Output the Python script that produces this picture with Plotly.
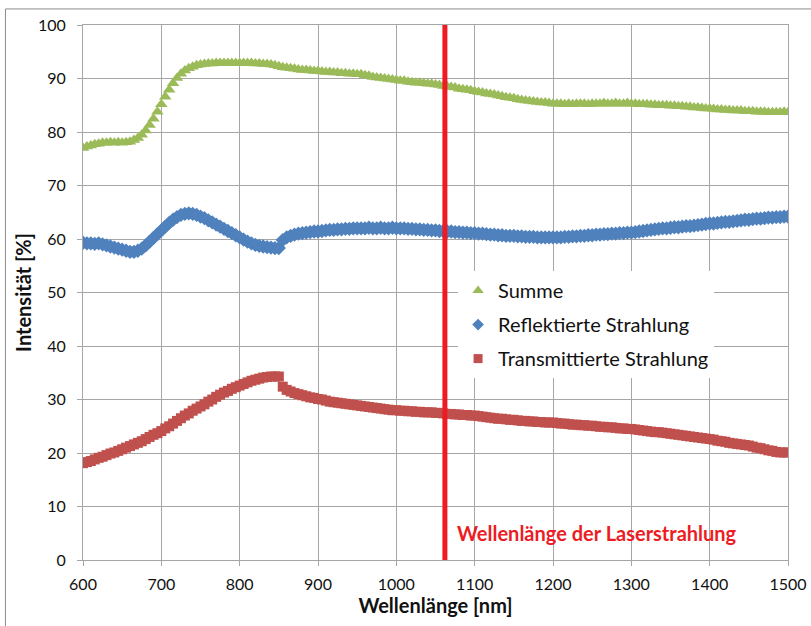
import plotly.graph_objects as go

wavelength = list(range(600, 1505, 5))

summe = [
    77.0, 77.3, 77.5, 77.7, 77.8, 78.0, 78.0, 78.1, 78.0, 78.1,
    78.0, 78.1, 78.2, 78.5, 78.9, 79.5, 80.3, 81.3, 82.5, 83.8,
    85.2, 86.6, 87.9, 89.1, 90.1, 90.9, 91.5, 91.9, 92.2, 92.5,
    92.6, 92.7, 92.8, 92.8, 92.9, 92.9, 92.9, 92.9, 92.9, 92.9,
    92.9, 92.9, 92.9, 92.9, 92.8, 92.8, 92.7, 92.7, 92.6, 92.5,
    92.3, 92.1, 92.0, 91.9, 91.8, 91.7, 91.6, 91.6, 91.5, 91.4,
    91.4, 91.3, 91.2, 91.2, 91.1, 91.1, 91.0, 91.0, 90.9, 90.9,
    90.8, 90.8, 90.6, 90.5, 90.3, 90.2, 90.1, 90.0, 89.9, 89.8,
    89.7, 89.6, 89.6, 89.4, 89.3, 89.2, 89.2, 89.1, 89.0, 89.0,
    88.9, 88.8, 88.6, 88.5, 88.4, 88.3, 88.1, 88.0, 87.9, 87.8,
    87.6, 87.5, 87.4, 87.2, 87.1, 87.0, 86.8, 86.7, 86.5, 86.4,
    86.3, 86.1, 86.0, 85.9, 85.8, 85.7, 85.6, 85.5, 85.5, 85.4,
    85.3, 85.3, 85.3, 85.2, 85.3, 85.2, 85.3, 85.3, 85.3, 85.2,
    85.3, 85.3, 85.3, 85.4, 85.3, 85.3, 85.4, 85.3, 85.3, 85.4,
    85.3, 85.3, 85.2, 85.2, 85.2, 85.1, 85.1, 85.0, 85.0, 85.0,
    84.9, 84.9, 84.8, 84.8, 84.7, 84.7, 84.6, 84.6, 84.5, 84.4,
    84.4, 84.3, 84.2, 84.2, 84.1, 84.1, 84.0, 84.0, 84.0, 83.9,
    83.9, 83.9, 83.8, 83.8, 83.8, 83.7, 83.7, 83.7, 83.7, 83.8,
    83.7,
]

reflektiert = [
    59.3, 59.2, 59.2, 59.1, 59.2, 59.0, 58.8, 58.6, 58.4, 58.2,
    58.0, 57.8, 57.6, 57.6, 57.8, 58.2, 58.8, 59.5, 60.2, 60.9,
    61.6, 62.3, 63.0, 63.6, 64.1, 64.5, 64.7, 64.8, 64.7, 64.5,
    64.2, 63.9, 63.5, 63.1, 62.7, 62.3, 61.9, 61.5, 61.1, 60.7,
    60.3, 59.9, 59.5, 59.2, 58.9, 58.7, 58.6, 58.5, 58.4, 58.3,
    58.3, 59.8, 60.3, 60.6, 60.8, 61.0, 61.1, 61.2, 61.3, 61.4,
    61.4, 61.5, 61.6, 61.7, 61.7, 61.8, 61.8, 61.9, 61.9, 62.0,
    62.0, 62.0, 62.0, 62.1, 62.0, 62.0, 62.1, 62.0, 62.0, 62.1,
    62.0, 62.0, 62.0, 61.9, 61.9, 61.8, 61.8, 61.7, 61.7, 61.6,
    61.6, 61.5, 61.5, 61.4, 61.4, 61.3, 61.3, 61.2, 61.2, 61.1,
    61.1, 61.0, 61.0, 60.9, 60.8, 60.8, 60.7, 60.7, 60.6, 60.6,
    60.6, 60.5, 60.5, 60.4, 60.4, 60.4, 60.3, 60.3, 60.3, 60.3,
    60.3, 60.3, 60.3, 60.4, 60.4, 60.5, 60.5, 60.6, 60.6, 60.7,
    60.7, 60.8, 60.8, 60.9, 60.9, 61.0, 61.0, 61.1, 61.1, 61.2,
    61.2, 61.3, 61.4, 61.5, 61.6, 61.7, 61.8, 61.9, 62.0, 62.0,
    62.1, 62.2, 62.2, 62.3, 62.4, 62.4, 62.5, 62.6, 62.7, 62.8,
    62.9, 62.9, 63.0, 63.1, 63.2, 63.2, 63.3, 63.4, 63.5, 63.6,
    63.6, 63.7, 63.8, 63.8, 63.9, 64.0, 64.0, 64.1, 64.1, 64.2,
    64.2,
]

transmittiert = [
    18.1, 18.3, 18.5, 18.8, 19.1, 19.3, 19.6, 19.9, 20.1, 20.4,
    20.7, 21.0, 21.3, 21.6, 21.9, 22.2, 22.6, 23.0, 23.4, 23.7,
    24.1, 24.6, 25.0, 25.5, 26.0, 26.5, 27.0, 27.4, 27.9, 28.3,
    28.7, 29.1, 29.6, 30.0, 30.5, 30.9, 31.3, 31.6, 32.0, 32.3,
    32.6, 32.9, 33.2, 33.5, 33.7, 33.9, 34.1, 34.2, 34.3, 34.3,
    34.3, 32.4, 31.8, 31.5, 31.2, 31.0, 30.8, 30.6, 30.4, 30.3,
    30.1, 30.0, 29.8, 29.6, 29.5, 29.4, 29.3, 29.2, 29.1, 29.0,
    28.9, 28.8, 28.7, 28.6, 28.5, 28.4, 28.3, 28.2, 28.1, 28.0,
    28.0, 27.9, 27.9, 27.8, 27.8, 27.7, 27.7, 27.6, 27.6, 27.6,
    27.5, 27.5, 27.4, 27.3, 27.3, 27.2, 27.2, 27.1, 27.1, 27.0,
    27.0, 26.9, 26.8, 26.7, 26.6, 26.5, 26.4, 26.4, 26.3, 26.2,
    26.2, 26.1, 26.0, 26.0, 25.9, 25.9, 25.8, 25.8, 25.7, 25.7,
    25.7, 25.6, 25.5, 25.5, 25.4, 25.3, 25.3, 25.2, 25.2, 25.1,
    25.1, 25.0, 24.9, 24.9, 24.8, 24.8, 24.7, 24.6, 24.6, 24.5,
    24.5, 24.4, 24.3, 24.2, 24.1, 24.0, 23.9, 23.9, 23.8, 23.7,
    23.6, 23.5, 23.4, 23.3, 23.2, 23.1, 23.0, 22.9, 22.8, 22.7,
    22.6, 22.5, 22.3, 22.2, 22.1, 21.9, 21.8, 21.7, 21.6, 21.5,
    21.4, 21.2, 21.0, 20.9, 20.7, 20.5, 20.4, 20.2, 20.1, 20.1,
    20.1,
]

laser_wavelength = 1062
laser_label = "Wellenlänge der Laserstrahlung"
series_names = ["Summe", "Reflektierte Strahlung", "Transmittierte Strahlung"]
series_colors = ["#9BBB59", "#4F81BD", "#C0504D"]
series_symbols = ["triangle-up", "diamond", "square"]
series_values = [summe, reflektiert, transmittiert]

FONT = "Lato"
GRID = "#A6A6A6"
TXT = "#111111"

fig = go.Figure()
data_sizes = [11, 11, 10]
legend_sizes = [10, 9, 9]
groups = ["a", "b", "c"]
for name, vals, col, sym, ds, ls, g in zip(series_names, series_values, series_colors,
                                           series_symbols, data_sizes, legend_sizes, groups):
    fig.add_trace(go.Scatter(
        x=wavelength, y=vals, mode="markers", name=name, legendgroup=g, showlegend=False,
        marker=dict(symbol=sym, size=ds, color=col, line=dict(width=0)),
    ))
    fig.add_trace(go.Scatter(
        x=[None], y=[None], mode="markers", name=name, legendgroup=g, showlegend=True,
        marker=dict(symbol=sym, size=ls, color=col, line=dict(width=0)),
    ))

fig.add_shape(type="line", xref="x", yref="y", x0=laser_wavelength, x1=laser_wavelength,
              y0=0, y1=100, line=dict(color="#ED1C24", width=5), layer="above")
fig.add_shape(type="rect", xref="paper", yref="paper", x0=-0.11, x1=1.2, y0=-0.3, y1=1.03,
              line=dict(color="#8C8C8C", width=1), fillcolor="rgba(0,0,0,0)", layer="below")

fig.add_annotation(x=1075, y=5, xref="x", yref="y", text=f"<b>{laser_label}</b>",
                   showarrow=False, xanchor="left", yanchor="middle",
                   font=dict(family=FONT, size=20, color="#ED1C24"))

fig.update_layout(
    width=811, height=626,
    margin=dict(l=83, r=23, t=25, b=66, autoexpand=False),
    paper_bgcolor="white", plot_bgcolor="white",
    font=dict(family=FONT, size=16, color=TXT),
    showlegend=True,
    legend=dict(x=0.532, y=0.54, xanchor="left", yanchor="top", bgcolor="white",
                font=dict(family=FONT, size=20, color=TXT), tracegroupgap=5,
                itemsizing="trace"),
    xaxis=dict(range=[600, 1500], tickvals=list(range(600, 1600, 100)),
               showgrid=True, gridcolor=GRID, gridwidth=1, zeroline=False,
               showline=True, linecolor=GRID, mirror=True, automargin=False,
               ticks="outside", ticklen=5, tickcolor=GRID,
               ticklabelposition="outside", ticklabelstandoff=5,
               title=dict(text="<b>Wellenlänge [nm]</b>", font=dict(family=FONT, size=20), standoff=0),
               tickfont=dict(family=FONT, size=16)),
    yaxis=dict(range=[0, 100], tickvals=list(range(0, 110, 10)),
               showgrid=True, gridcolor=GRID, gridwidth=1, zeroline=False,
               showline=True, linecolor=GRID, mirror=True, automargin=False,
               ticks="outside", ticklen=5, tickcolor=GRID,
               ticklabelposition="outside", ticklabelstandoff=8,
               title=dict(text="<b>Intensität [%]</b>", font=dict(family=FONT, size=20), standoff=0),
               tickfont=dict(family=FONT, size=16)),
)

fig.write_html("out.html", config={"displayModeBar": False},
               post_script="document.body.style.margin='0';document.body.style.overflow='hidden';")
